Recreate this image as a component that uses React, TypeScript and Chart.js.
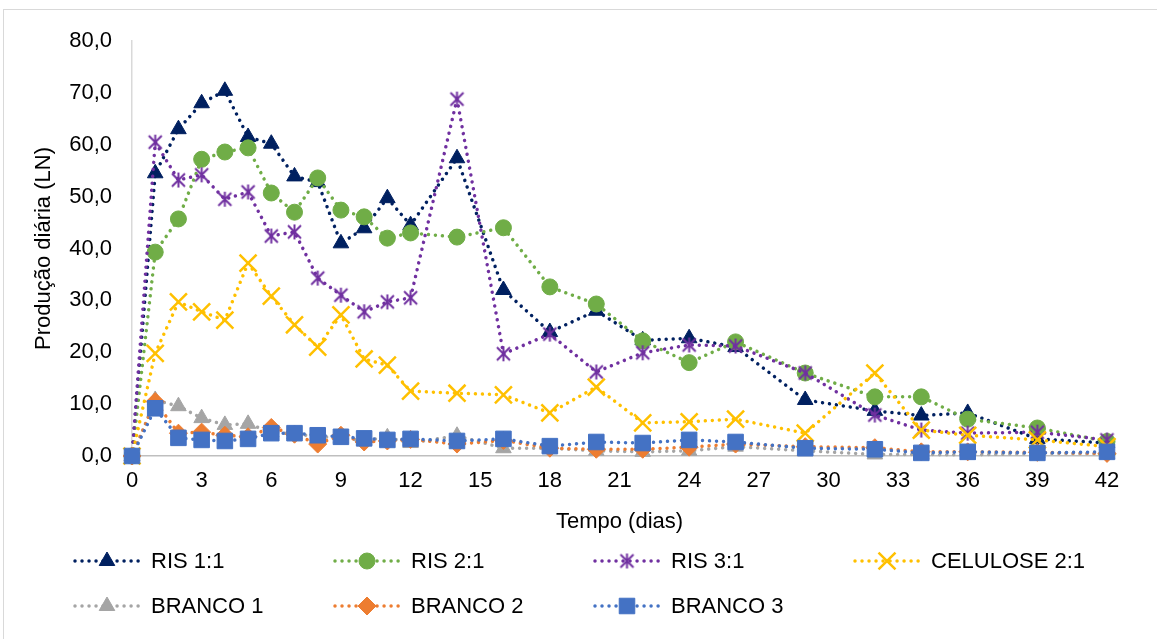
import React, { useEffect, useRef } from 'react';
import { Chart, registerables } from 'chart.js';
import { drawPoint } from 'chart.js/helpers';

Chart.register(...registerables);

// Sampling days (x) and daily biogas production per reactor (LN)
const days = [0, 1, 2, 3, 4, 5, 6, 7, 8, 9, 10, 11, 12, 14, 16, 18, 20, 22, 24, 26, 29, 32, 34, 36, 39, 42];

const ris11 = [0, 54.5, 63.0, 68.0, 70.4, 61.5, 60.2, 53.9, 52.8, 41.0, 43.9, 49.7, 44.5, 57.4, 32.0, 23.9, 28.0, 22.3, 22.7, 21.0, 10.8, 8.7, 7.8, 8.3, 3.3, 2.5];
const ris21 = [0, 39.3, 45.7, 57.2, 58.6, 59.4, 50.7, 47.0, 53.6, 47.4, 46.1, 42.0, 43.0, 42.2, 44.0, 32.6, 29.3, 22.2, 18.0, 22.0, 16.0, 11.4, 11.4, 7.1, 5.4, 2.8];
const ris31 = [0, 60.5, 53.2, 54.2, 49.5, 50.9, 42.4, 43.2, 34.3, 31.0, 27.8, 29.7, 30.5, 68.8, 19.7, 23.5, 16.2, 19.9, 21.4, 21.2, 16.0, 7.9, 5.0, 4.4, 4.6, 3.1];
const celulose21 = [0, 19.8, 29.7, 27.8, 26.2, 37.2, 30.8, 25.3, 21.0, 27.2, 18.7, 17.5, 12.5, 12.1, 11.8, 8.3, 13.3, 6.4, 6.6, 7.1, 4.4, 16.0, 5.0, 4.0, 3.1, 1.8];
const branco1 = [0, 10.8, 9.6, 7.3, 6.0, 6.2, 4.6, 4.2, 3.8, 3.4, 3.0, 3.6, 2.5, 3.9, 1.5, 1.5, 1.0, 0.8, 1.0, 1.8, 1.0, 0.3, 0.3, 0.2, 0.5, 0.4];
const branco2 = [0, 10.5, 4.4, 4.6, 4.0, 3.7, 5.5, 4.2, 2.3, 4.0, 2.7, 2.9, 3.2, 2.3, 3.0, 1.5, 1.3, 1.3, 1.7, 2.3, 1.8, 1.6, 0.8, 0.8, 0.7, 0.5];
const branco3 = [0, 9.2, 3.5, 3.1, 2.9, 3.3, 4.4, 4.4, 4.0, 3.7, 3.4, 3.1, 3.3, 2.9, 3.3, 1.9, 2.7, 2.5, 3.1, 2.7, 1.5, 1.3, 0.6, 0.8, 0.6, 0.8];

const seriesLabels = ['RIS 1:1', 'RIS 2:1', 'RIS 3:1', 'CELULOSE 2:1', 'BRANCO 1', 'BRANCO 2', 'BRANCO 3'];
const seriesValues = [ris11, ris21, ris31, celulose21, branco1, branco2, branco3];
const seriesColors = ['#002060', '#70AD47', '#7030A0', '#FFC000', '#A5A5A5', '#ED7D31', '#4472C4'];

const FONT = '"Liberation Sans", Arial, sans-serif';

// Six-armed asterisk marker (vertical bar + X through the box corners)
function makeAsterisk(color: string, size: number, lw: number): HTMLCanvasElement {
  const c = document.createElement('canvas');
  c.width = size;
  c.height = size;
  const g = c.getContext('2d')!;
  const a = lw / 2 + 1;
  const b = size - a;
  const m = size / 2;
  g.strokeStyle = color;
  g.lineWidth = lw;
  g.beginPath();
  g.moveTo(m, a - 1);
  g.lineTo(m, b + 1);
  g.moveTo(a, a);
  g.lineTo(b, b);
  g.moveTo(b, a);
  g.lineTo(a, b);
  g.stroke();
  return c;
}

const frameBox = {
  id: 'frameBox',
  beforeDraw(chart: any) {
    const ctx = chart.ctx;
    ctx.save();
    ctx.strokeStyle = '#d9d9d9';
    ctx.lineWidth = 1;
    ctx.strokeRect(3.5, 9.5, 1200, 700);
    ctx.restore();
  },
};

const seriesLegend = {
  id: 'seriesLegend',
  afterDraw(chart: any) {
    const ctx = chart.ctx;
    ctx.save();
    chart.data.datasets.forEach((ds: any, i: number) => {
      const col = i % 4;
      const row = Math.floor(i / 4);
      const x = 75 + col * 260;
      const y = 561 + row * 45;
      ctx.strokeStyle = ds.borderColor;
      ctx.lineWidth = 3.5;
      ctx.lineCap = 'round';
      ctx.setLineDash([0.01, 7]);
      ctx.beginPath();
      ctx.moveTo(x, y);
      ctx.lineTo(x + 64, y);
      ctx.stroke();
      ctx.setLineDash([]);
      ctx.lineCap = 'butt';
      ctx.fillStyle = ds.pointBackgroundColor;
      ctx.strokeStyle = ds.pointBorderColor;
      ctx.lineWidth = ds.pointBorderWidth;
      drawPoint(ctx, { pointStyle: ds.pointStyle, radius: ds.pointRadius, rotation: 0, borderWidth: ds.pointBorderWidth }, x + 32, y);
      ctx.fillStyle = '#000';
      ctx.font = '22px ' + FONT;
      ctx.textBaseline = 'middle';
      ctx.textAlign = 'left';
      ctx.fillText(ds.label, x + 76, y + 1);
    });
    ctx.restore();
  },
};

export default function App() {
  const canvasRef = useRef<HTMLCanvasElement | null>(null);

  useEffect(() => {
    if (!canvasRef.current) return;
    const asterisk = makeAsterisk(seriesColors[2], 17, 2);
    const styles: any[] = ['triangle', 'circle', asterisk, 'crossRot', 'triangle', 'rectRot', 'rect'];
    const radii = [9, 8, 8, 12, 9, 9, 11];
    const borderW = [1, 1, 2, 2.5, 1, 1, 1];

    const datasets = seriesLabels.map((label, i) => ({
      label,
      data: days.map((d, k) => ({ x: d, y: seriesValues[i][k] })),
      borderColor: seriesColors[i],
      backgroundColor: seriesColors[i],
      borderWidth: 3.5,
      borderDash: [0.01, 7],
      borderCapStyle: 'round' as const,
      pointStyle: styles[i],
      pointRadius: radii[i],
      pointBackgroundColor: seriesColors[i],
      pointBorderColor: seriesColors[i],
      pointBorderWidth: borderW[i],
      tension: 0,
      clip: false as const,
      order: 7 - i,
    }));

    const chart = new Chart(canvasRef.current, {
      type: 'line',
      data: { datasets },
      options: {
        animation: false,
        responsive: false,
        events: [],
        layout: { padding: { left: 0, top: 41, right: 50, bottom: 0 } },
        plugins: { legend: { display: false }, tooltip: { enabled: false } },
        scales: {
          x: {
            type: 'linear',
            min: 0,
            max: 42,
            grid: { display: false, drawTicks: false },
            border: { display: true, color: '#bfbfbf', width: 1.5 },
            ticks: { stepSize: 3, autoSkip: false, maxRotation: 0, padding: 12, color: '#000', font: { family: FONT, size: 22 } },
            title: { display: true, text: 'Tempo (dias)', color: '#000', font: { family: FONT, size: 22 }, padding: { top: 0, bottom: 104 } },
            afterFit: (scale: any) => { scale.height = 183; },
          },
          y: {
            type: 'linear',
            min: 0,
            max: 80,
            grid: { display: false, drawTicks: false },
            border: { display: true, color: '#d9d9d9', width: 1.5 },
            ticks: {
              stepSize: 10,
              padding: 20,
              color: '#000',
              font: { family: FONT, size: 22 },
              callback: (v: any) => Number(v).toFixed(1).replace('.', ','),
            },
            title: { display: true, text: 'Produção diária (LN)', color: '#000', font: { family: FONT, size: 22 }, padding: { top: 31, bottom: 0 } },
            afterFit: (scale: any) => { scale.width = 132; },
          },
        },
      },
      plugins: [frameBox, seriesLegend],
    });
    return () => chart.destroy();
  }, []);

  return (
    <div style={{ position: 'absolute', left: 0, top: 0, width: 1157, height: 639, background: '#fff' }}>
      <canvas ref={canvasRef} width={1157} height={639} />
    </div>
  );
}
